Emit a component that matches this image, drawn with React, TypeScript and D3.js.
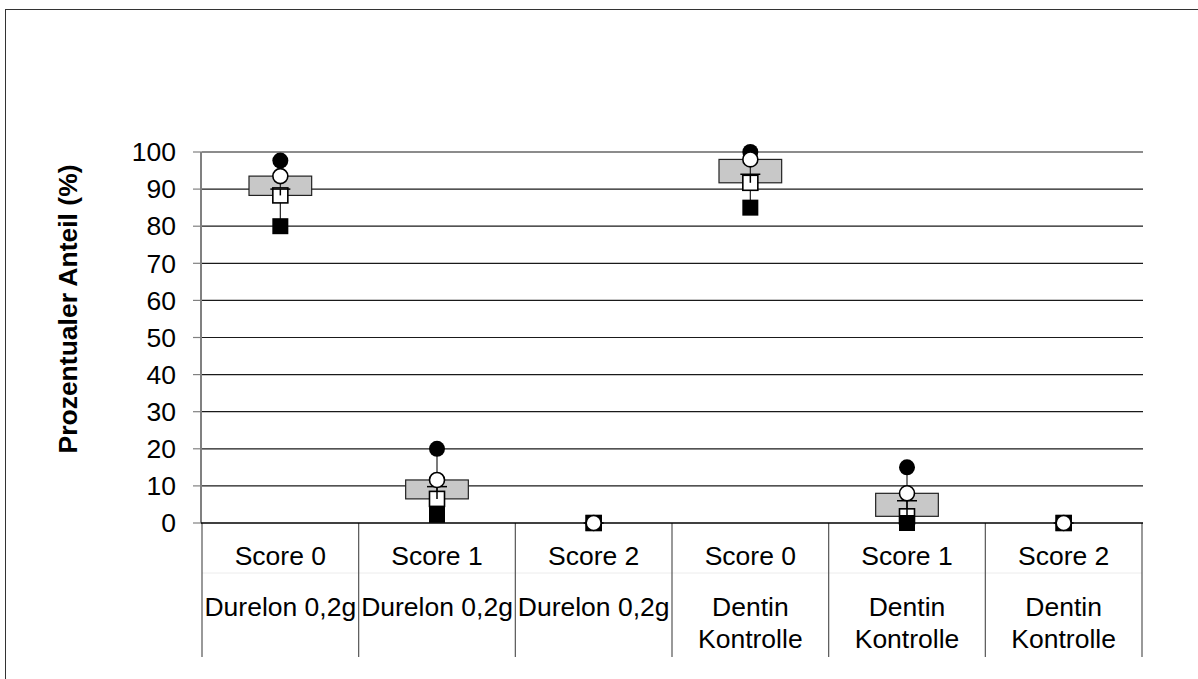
import { useEffect, useRef } from 'react';
import * as d3 from 'd3';

// categories on the x axis (two label lines)
const scores = ['Score 0', 'Score 1', 'Score 2', 'Score 0', 'Score 1', 'Score 2'];
const groups = [
    ['Durelon 0,2g'], ['Durelon 0,2g'], ['Durelon 0,2g'],
    ['Dentin', 'Kontrolle'], ['Dentin', 'Kontrolle'], ['Dentin', 'Kontrolle'],
];

// values (%)
const maxValues = [97.7, 20, 0, 100, 15, 0];
const q3Values = [93.5, 11.6, 0, 98, 8, 0];
const medianValues = [90, 9.8, 0, 94, 6, 0];
const q1Values = [88.3, 6.5, 0, 91.7, 1.8, 0];
const minValues = [80, 2.2, 0, 85, 0, 0];

const yTicks = [0, 10, 20, 30, 40, 50, 60, 70, 80, 90, 100];

export default function App() {
    const svgRef = useRef<SVGSVGElement>(null);
    const width = 1198;
    const height = 679;
    const left = 202;
    const right = 1142;
    const top = 152;
    const bottom = 523;
    const font = '"Liberation Sans", Arial, sans-serif';
    const fs = 26.5;

    useEffect(() => {
        if (!svgRef.current) return;
        const svg = d3.select(svgRef.current);
        svg.selectAll('*').remove();

        const x = d3.scaleBand<number>()
            .domain(scores.map((_, i) => i))
            .range([left, right])
            .padding(0);
        const y = d3.scaleLinear().domain([0, 100]).range([bottom, top]);
        const bw = x.bandwidth() * 0.4;

        // outer frame
        svg.append('rect')
            .attr('x', 5.5).attr('y', 9.5)
            .attr('width', 1200).attr('height', 700)
            .attr('fill', 'white')
            .attr('stroke', '#333').attr('stroke-width', 1);

        // gridlines
        svg.append('g').selectAll('line')
            .data(yTicks.filter(t => t > 0))
            .enter().append('line')
            .attr('x1', left).attr('x2', right + 1)
            .attr('y1', d => y(d)).attr('y2', d => y(d))
            .attr('stroke', '#1a1a1a').attr('stroke-width', 1.2);

        // y axis
        svg.append('line')
            .attr('x1', left - 1).attr('x2', left - 1)
            .attr('y1', top).attr('y2', bottom)
            .attr('stroke', '#808080').attr('stroke-width', 2);

        const yt = svg.append('g');
        yt.selectAll('line')
            .data(yTicks)
            .enter().append('line')
            .attr('x1', left - 9).attr('x2', left)
            .attr('y1', d => y(d)).attr('y2', d => y(d))
            .attr('stroke', '#808080').attr('stroke-width', 1.2);
        yt.selectAll('text')
            .data(yTicks)
            .enter().append('text')
            .attr('x', left - 26)
            .attr('y', d => y(d))
            .attr('dy', '0.35em')
            .attr('text-anchor', 'end')
            .attr('font-family', font)
            .attr('font-size', fs)
            .attr('fill', '#000')
            .text(d => d);

        // y title
        svg.append('text')
            .attr('transform', `translate(77,309) rotate(-90)`)
            .attr('text-anchor', 'middle')
            .attr('font-family', font)
            .attr('font-size', fs)
            .attr('font-weight', 'bold')
            .text('Prozentualer Anteil (%)');

        // category separators and faint row line
        svg.append('line')
            .attr('x1', left).attr('x2', right)
            .attr('y1', 573).attr('y2', 573)
            .attr('stroke', '#ececec').attr('stroke-width', 1);
        svg.append('g').selectAll('line')
            .data(d3.range(scores.length + 1))
            .enter().append('line')
            .attr('x1', d => (d < scores.length ? x(d)! : right))
            .attr('x2', d => (d < scores.length ? x(d)! : right))
            .attr('y1', bottom).attr('y2', 657)
            .attr('stroke', '#555').attr('stroke-width', 1.2);

        // category labels
        const lab = svg.append('g')
            .attr('font-family', font)
            .attr('font-size', fs)
            .attr('text-anchor', 'middle');
        scores.forEach((s, i) => {
            const cx = x(i)! + x.bandwidth() / 2;
            lab.append('text').attr('x', cx).attr('y', 565).text(s);
            groups[i].forEach((g, j) => {
                lab.append('text').attr('x', cx).attr('y', 616 + j * 31.5).text(g);
            });
        });

        // x axis line
        svg.append('line')
            .attr('x1', left - 1).attr('x2', right + 1)
            .attr('y1', bottom).attr('y2', bottom)
            .attr('stroke', '#000').attr('stroke-width', 1.5);

        // boxes
        const g = svg.append('g');
        scores.forEach((_, i) => {
            const cx = x(i)! + x.bandwidth() / 2;
            g.append('rect')
                .attr('x', cx - bw / 2)
                .attr('y', y(q3Values[i]))
                .attr('width', bw)
                .attr('height', y(q1Values[i]) - y(q3Values[i]))
                .attr('fill', '#c8c8c8')
                .attr('stroke', '#222').attr('stroke-width', 1.2);

            // whisker min-max
            g.append('line')
                .attr('x1', cx).attr('x2', cx)
                .attr('y1', y(minValues[i])).attr('y2', y(maxValues[i]))
                .attr('stroke', '#222').attr('stroke-width', 1.2);

            // Q1 open square
            g.append('rect')
                .attr('x', cx - 7.5).attr('y', y(q1Values[i]) - 7.5)
                .attr('width', 15).attr('height', 15)
                .attr('fill', 'white').attr('stroke', '#000').attr('stroke-width', 1.6);

            // median cap from Q1
            g.append('line')
                .attr('x1', cx).attr('x2', cx)
                .attr('y1', y(q1Values[i])).attr('y2', y(medianValues[i]))
                .attr('stroke', '#000').attr('stroke-width', 1.5);
            g.append('line')
                .attr('x1', cx - 10).attr('x2', cx + 10)
                .attr('y1', y(medianValues[i])).attr('y2', y(medianValues[i]))
                .attr('stroke', '#000').attr('stroke-width', 1.5);

            // min filled square
            g.append('rect')
                .attr('x', cx - 8).attr('y', y(minValues[i]) - 8)
                .attr('width', 16).attr('height', 16)
                .attr('fill', '#000');

            // max filled circle
            g.append('circle')
                .attr('cx', cx).attr('cy', y(maxValues[i]))
                .attr('r', 8).attr('fill', '#000');

            // Q3 open circle
            g.append('circle')
                .attr('cx', cx).attr('cy', y(q3Values[i]))
                .attr('r', 7.5)
                .attr('fill', 'white').attr('stroke', '#000').attr('stroke-width', 1.6);
        });
    }, []);

    return (
        <svg ref={svgRef} width={width} height={height}
            style={{ position: 'absolute', left: 0, top: 0, display: 'block' }} />
    );
}
